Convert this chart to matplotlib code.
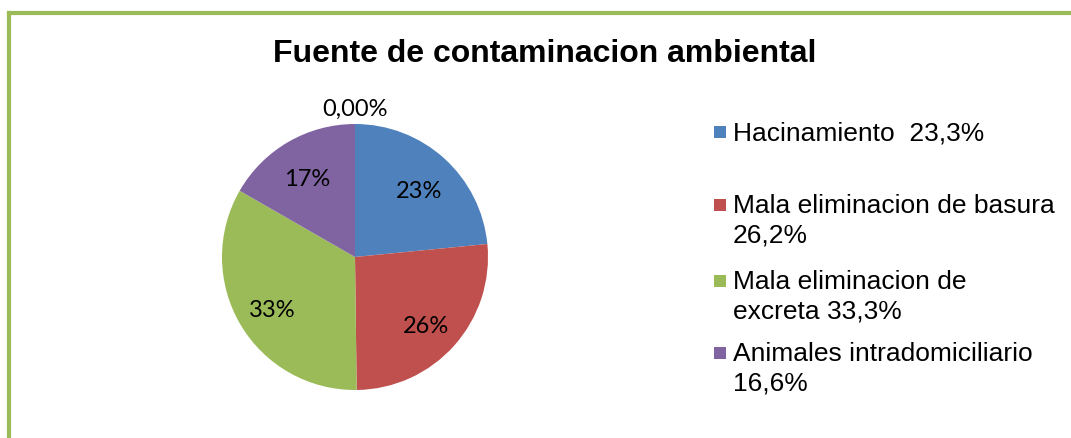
import matplotlib.pyplot as plt
import numpy as np
from matplotlib.lines import Line2D
from matplotlib.patches import Rectangle

W, H = 1071, 438

categorias = [
    "Hacinamiento  23,3%",
    "Mala eliminacion de basura\n26,2%",
    "Mala eliminacion de\nexcreta 33,3%",
    "Animales intradomiciliario\n16,6%",
]
valores = [23.3, 26.2, 33.3, 16.6, 0.0]
etiquetas = ["23%", "26%", "33%", "17%", "0,00%"]
colores = ["#4F81BD", "#C0504D", "#9BBB59", "#8064A2", "#FFFFFF"]

fig = plt.figure(figsize=(W / 100, H / 100), dpi=100)

# borde verde (solo arriba e izquierda visibles)
borde = "#9BBB59"
fig.add_artist(Line2D([9 / W, 1], [1 - 13 / H, 1 - 13 / H], color=borde, lw=3, transform=fig.transFigure))
fig.add_artist(Line2D([9 / W, 9 / W], [0, 1 - 13 / H], color=borde, lw=3, transform=fig.transFigure))

fig.text(545 / W, 1 - 62 / H, "Fuente de contaminacion ambiental", ha="center", va="baseline",
         fontsize=23, fontweight="bold", family="Liberation Sans")

cx, cy, r = 355, 257, 133
ax = fig.add_axes([(cx - r) / W, (H - cy - r) / H, 2 * r / W, 2 * r / H])
wedges, _ = ax.pie(valores, colors=colores, startangle=90, counterclock=False, radius=1)
ax.set_xlim(-1, 1)
ax.set_ylim(-1, 1)
ax.set_aspect("auto")

for w, lab, v in zip(wedges, etiquetas, valores):
    ang = np.deg2rad((w.theta1 + w.theta2) / 2)
    d = 0.72 if v > 0 else 1.15
    ax.text(d * np.cos(ang), d * np.sin(ang) - 0.04, lab, ha="center", va="center",
            fontsize=17, family="Lato", clip_on=False)

# leyenda dibujada a mano: cuadro alineado con la primera linea
baselines = [140, 213, 289, 361]
for w, lab, yb in zip(wedges, categorias, baselines):
    fig.add_artist(Rectangle((714 / W, 1 - (yb - 2) / H), 12 / W, 12 / H,
                             facecolor=w.get_facecolor(), transform=fig.transFigure))
    for i, linea in enumerate(lab.split("\n")):
        fig.text(733 / W, 1 - (yb + 30 * i) / H, linea, ha="left", va="baseline",
                 fontsize=19, family="Liberation Sans")

fig.savefig("out.png", dpi=100)
